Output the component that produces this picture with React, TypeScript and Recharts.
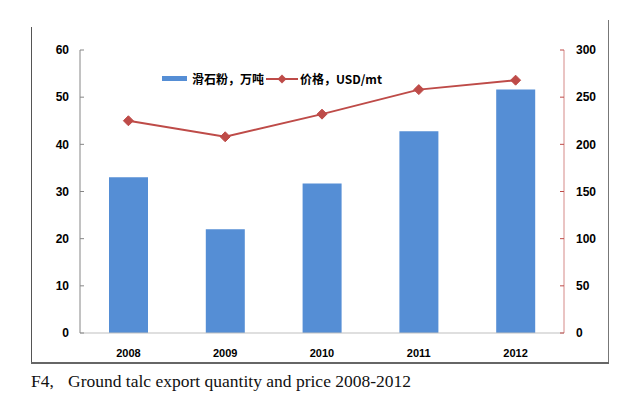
import {
  Bar,
  ComposedChart,
  Legend,
  Line,
  XAxis,
  YAxis,
} from "recharts";

const years = ["2008", "2009", "2010", "2011", "2012"];
const quantity = [33, 22, 31.7, 42.8, 51.6];
const price = [225, 208, 232, 258, 268];
const leftTicks = [0, 10, 20, 30, 40, 50, 60];
const rightTicks = [0, 50, 100, 150, 200, 250, 300];
const boundaryTicks = [0, 1, 2, 3, 4, 5];

const qtyName = "滑石粉，万吨";
const priceName = "价格，USD/mt";

const data = years.map((year, i) => ({
  year,
  qty: quantity[i],
  price: price[i],
}));

const BLUE = "#558ed5";
const RED = "#be4b48";
const tickFont = {
  fontFamily: "'Liberation Sans', Arial, sans-serif",
  fontWeight: "bold" as const,
  fill: "#000",
};

function Diamond(props: any) {
  const { cx, cy } = props;
  if (cx == null || cy == null) return null;
  const r = 5;
  return (
    <path
      d={`M${cx},${cy - r}L${cx + r},${cy}L${cx},${cy + r}L${cx - r},${cy}Z`}
      fill={RED}
      stroke={RED}
    />
  );
}

function ChartLegend() {
  const text = {
    fontFamily: "'Noto Sans CJK SC', sans-serif",
    fontWeight: "bold" as const,
    fontSize: 12,
    color: "#000",
  };
  return (
    <div style={{ display: "flex", alignItems: "center", whiteSpace: "nowrap" }}>
      <span style={{ width: 25, height: 5, background: BLUE, marginRight: 5 }} />
      <span style={text}>{qtyName}</span>
      <svg width={32} height={12} style={{ margin: "0 2px 0 2px" }}>
        <line x1={0} y1={6} x2={32} y2={6} stroke={RED} strokeWidth={2} />
        <path d="M16,1.5L20.5,6L16,10.5L11.5,6Z" fill={RED} />
      </svg>
      <span style={text}>{priceName}</span>
    </div>
  );
}

export default function App() {
  const caption = {
    position: "absolute" as const,
    top: 371,
    fontFamily: "'Liberation Serif', 'Times New Roman', serif",
    fontSize: 17.5,
    color: "#111",
    whiteSpace: "nowrap" as const,
  };
  return (
    <div
      style={{
        position: "absolute",
        left: 0,
        top: 0,
        width: 634,
        height: 393,
        background: "#fff",
      }}
    >
      {/* frame around the chart */}
      <div style={{ position: "absolute", left: 31, top: 27, width: 1, height: 336, background: "#555" }} />
      <div style={{ position: "absolute", left: 608, top: 20, width: 1, height: 343, background: "#777" }} />
      <div style={{ position: "absolute", left: 31, top: 362, width: 578, height: 2, background: "#666" }} />

      <ComposedChart
        width={634}
        height={393}
        data={data}
        margin={{ top: 50, right: 30, bottom: 40, left: 40 }}
        style={{ position: "absolute", left: 0, top: 0 }}
      >
        <XAxis
          xAxisId="edges"
          type="number"
          domain={[0, 5]}
          ticks={boundaryTicks}
          tick={false}
          height={0}
          axisLine={false}
          tickLine={{ stroke: "#bfbfbf" }}
          tickSize={3}
        />
        <XAxis
          dataKey="year"
          height={20}
          axisLine={{ stroke: "#bfbfbf" }}
          tickLine={false}
          tick={{ ...tickFont, fontSize: 11 }}
          tickMargin={10}
        />
        <YAxis
          yAxisId="left"
          domain={[0, 60]}
          ticks={leftTicks}
          width={40}
          axisLine={{ stroke: "#868686" }}
          tickLine={{ stroke: "#868686" }}
          tickSize={-4}
          tickMargin={15}
          tick={{ ...tickFont, fontSize: 12 }}
        />
        <YAxis
          yAxisId="right"
          orientation="right"
          domain={[0, 300]}
          ticks={rightTicks}
          width={40}
          axisLine={{ stroke: "#d58a88" }}
          tickLine={{ stroke: RED }}
          tickSize={-4}
          tickMargin={16}
          tick={{ ...tickFont, fontSize: 12, textAnchor: "start" }}
        />
        <Legend
          verticalAlign="middle"
          align="center"
          content={() => <ChartLegend />}
          wrapperStyle={{ top: 70, left: 162, width: "auto", height: "auto" }}
        />
        <Bar
          yAxisId="left"
          dataKey="qty"
          name={qtyName}
          fill={BLUE}
          barSize={39}
          isAnimationActive={false}
        />
        <Line
          yAxisId="right"
          dataKey="price"
          name={priceName}
          stroke={RED}
          strokeWidth={2}
          dot={<Diamond />}
          activeDot={false}
          isAnimationActive={false}
        />
      </ComposedChart>

      <div style={{ ...caption, left: 31 }}>F4,</div>
      <div style={{ ...caption, left: 68 }}>Ground talc export quantity and price 2008-2012</div>
    </div>
  );
}
